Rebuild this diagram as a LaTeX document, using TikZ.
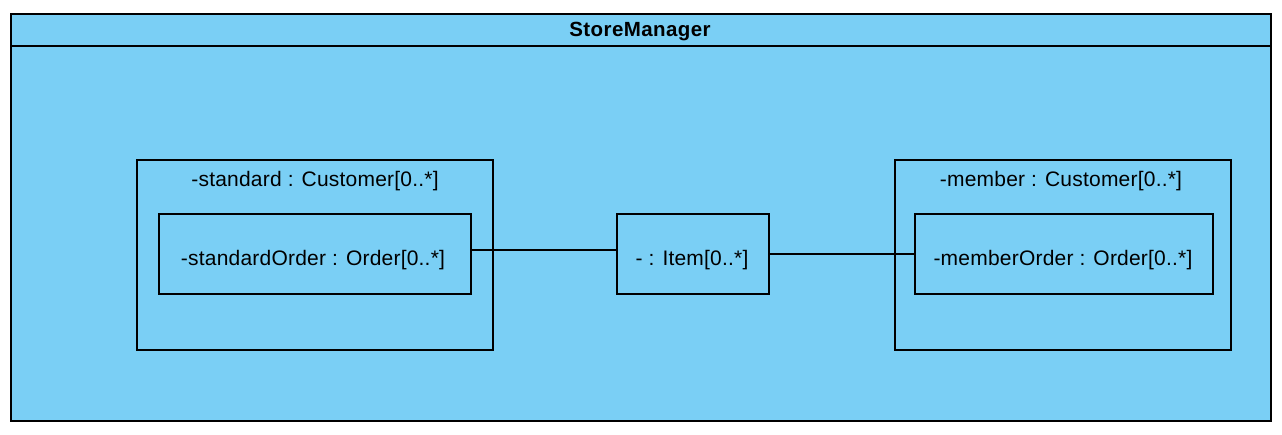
\documentclass[tikz,border=0pt]{standalone}
\usepackage{fontspec}
\setmainfont{Liberation Sans}
\definecolor{partblue}{RGB}{122,207,245}
\tikzset{
  part/.style={draw=black, line width=1.5pt, inner sep=0pt, minimum width=#1},
  lbl/.style={inner sep=0pt, font=\fontsize{21}{25}\selectfont\addfontfeature{LetterSpace=1}},
  ttl/.style={inner sep=0pt, font=\fontsize{20.5}{24}\selectfont\bfseries\addfontfeature{LetterSpace=2}},
  link/.style={draw=black, line width=1.5pt}
}
\begin{document}
\begin{tikzpicture}[x=1pt, y=-1pt]
  \useasboundingbox (0,0) rectangle (1282,434);
  % outer class
  \node[part=1260pt, minimum height=407pt, fill=partblue] (mgr) at (641,217.5) {};
  \draw[link] (mgr.west |- 0,46) coordinate (hdl) -- (mgr.east |- 0,46) coordinate (hdr);
  \node[ttl, anchor=base] (mgrtitle) at (640,36) {StoreManager};
  % left part
  \node[part=356pt, minimum height=190pt] (std) at (315,255) {};
  \node[lbl, anchor=base] (stdlbl) at (315,186) {-standard : Customer[0..*]};
  \node[part=312pt, minimum height=80pt] (stdorder) at (315,254) {};
  \node[lbl, anchor=base] (stdordlbl) at (313,265) {-standardOrder : Order[0..*]};
  % middle
  \node[part=152pt, minimum height=80pt] (item) at (693,254) {};
  \node[lbl, anchor=base] (itemlbl) at (692,265) {- : Item[0..*]};
  % right part
  \node[part=336pt, minimum height=190pt] (mem) at (1063,255) {};
  \node[lbl, anchor=base] (memlbl) at (1061,186) {-member : Customer[0..*]};
  \node[part=298pt, minimum height=80pt] (memorder) at (1064,254) {};
  \node[lbl, anchor=base] (memordlbl) at (1063,265) {-memberOrder : Order[0..*]};
  % connectors
  \draw[link] ([yshift=4pt]stdorder.east) -- ([yshift=4pt]item.west);
  \draw[link] (item.east) -- (memorder.west);
\end{tikzpicture}
\end{document}
